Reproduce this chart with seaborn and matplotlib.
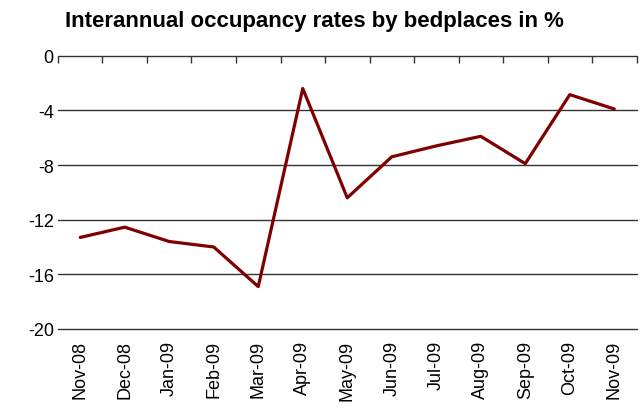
import numpy as np
import pandas as pd
import seaborn as sns
import matplotlib.pyplot as plt

# Data
months = ["Nov-08", "Dec-08", "Jan-09", "Feb-09", "Mar-09", "Apr-09", "May-09",
          "Jun-09", "Jul-09", "Aug-09", "Sep-09", "Oct-09", "Nov-09"]
rates = [-13.3, -12.55, -13.6, -14.0, -16.9, -2.4, -10.4,
         -7.4, -6.6, -5.9, -7.9, -2.85, -3.9]
y_ticks = [0, -4, -8, -12, -16, -20]

df = pd.DataFrame({"month": months, "rate": rates})
df["pos"] = np.arange(len(months))

sns.set_style("white")
plt.rcParams['font.family'] = ['Liberation Sans', 'DejaVu Sans']
plt.rcParams['text.color'] = 'black'
plt.rcParams['xtick.color'] = 'black'
plt.rcParams['ytick.color'] = 'black'

fig = plt.figure(figsize=(6.4, 4.14), dpi=100)
ax = fig.add_axes([0.0906, 0.203, 0.904, 0.66])

# horizontal gridlines
for v in y_ticks:
    ax.axhline(v, color='#333333', linewidth=1.0, zorder=1, clip_on=False)

sns.lineplot(data=df, x="pos", y="rate", color='#800000', linewidth=2.3, ax=ax, zorder=3)

ax.set_xlim(-0.5, len(months) - 0.5)
ax.set_ylim(-20, 0)
ax.set_yticks(y_ticks)
ax.set_yticklabels([str(v) for v in y_ticks], fontsize=13)
ax.set_xticks(df["pos"])
ax.set_xticklabels(months, rotation=90, fontsize=13)
ax.set_xlabel("")
ax.set_ylabel("")

# category boundary ticks on the zero line
ax.set_xticks(np.arange(-0.5, len(months)), minor=True)
ax.tick_params(axis='x', which='major', length=0, pad=8)
ax.tick_params(axis='x', which='minor', top=True, bottom=False, direction='in',
               length=5, width=1, color='#333333')
ax.tick_params(axis='y', length=0, pad=3)

for s in ax.spines.values():
    s.set_visible(False)

fig.text(0.492, 0.948, "Interannual occupancy rates by bedplaces in %",
         ha='center', va='center', fontsize=16, fontweight='bold')

fig.savefig("out.png", dpi=100)
